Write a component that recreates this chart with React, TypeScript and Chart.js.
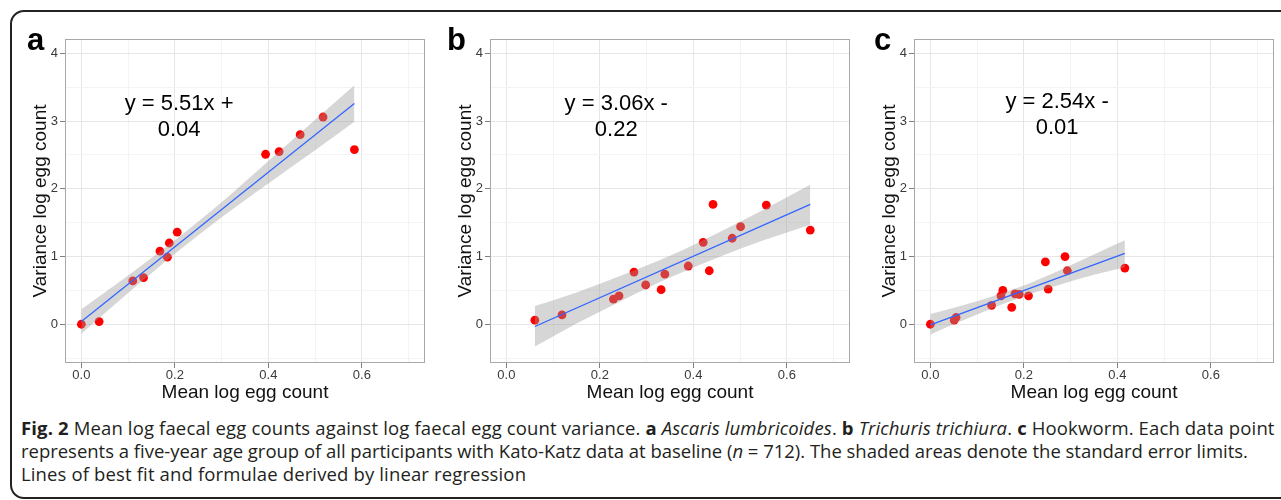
import React, { useEffect, useRef } from "react";
import { Chart, registerables } from "chart.js";

Chart.register(...registerables);

// ---------- data ----------
const xMajorTicks = [0, 0.2, 0.4, 0.6];
const xTickLabels = ["0.0", "0.2", "0.4", "0.6"];
const yMajorTicks = [0, 1, 2, 3, 4];
const yTickLabels = ["0", "1", "2", "3", "4"];

const panelLetters = ["a", "b", "c"];
const equationLines = [
  ["y = 5.51x +", "0.04"],
  ["y = 3.06x -", "0.22"],
  ["y = 2.54x -", "0.01"],
];

// a: Ascaris lumbricoides
const ascarisMean = [0.0, 0.038, 0.11, 0.133, 0.168, 0.184, 0.188, 0.205, 0.394, 0.423, 0.468, 0.517, 0.584];
const ascarisVar = [0.0, 0.04, 0.64, 0.69, 1.08, 0.99, 1.2, 1.36, 2.51, 2.55, 2.8, 3.06, 2.58];
const ascarisFitX = [0.0, 0.584];
const ascarisFitY = [0.04, 3.258];
const ascarisBandX = [0.0, 0.1, 0.2, 0.3, 0.4, 0.5, 0.584];
const ascarisBandUpper = [0.22, 0.72, 1.24, 1.80, 2.41, 3.02, 3.53];
const ascarisBandLower = [-0.14, 0.46, 1.04, 1.58, 2.08, 2.57, 2.99];

// b: Trichuris trichiura
const trichurisMean = [0.061, 0.119, 0.229, 0.241, 0.273, 0.298, 0.331, 0.339, 0.389, 0.421, 0.434, 0.442, 0.483, 0.501, 0.556, 0.65];
const trichurisVar = [0.06, 0.14, 0.37, 0.42, 0.77, 0.58, 0.51, 0.74, 0.86, 1.21, 0.79, 1.77, 1.27, 1.44, 1.76, 1.39];
const trichurisFitX = [0.061, 0.65];
const trichurisFitY = [-0.033, 1.769];
const trichurisBandX = [0.061, 0.15, 0.25, 0.35, 0.45, 0.55, 0.65];
const trichurisBandUpper = [0.27, 0.47, 0.73, 1.01, 1.34, 1.69, 2.06];
const trichurisBandLower = [-0.33, 0.01, 0.36, 0.69, 0.98, 1.24, 1.47];

// c: Hookworm
const hookwormMean = [0.0, 0.051, 0.055, 0.131, 0.151, 0.155, 0.174, 0.181, 0.19, 0.21, 0.246, 0.252, 0.288, 0.293, 0.416];
const hookwormVar = [0.0, 0.06, 0.1, 0.28, 0.42, 0.5, 0.25, 0.45, 0.44, 0.42, 0.92, 0.52, 1.0, 0.79, 0.83];
const hookwormFitX = [0.0, 0.416];
const hookwormFitY = [-0.01, 1.047];
const hookwormBandX = [0.0, 0.07, 0.14, 0.21, 0.28, 0.35, 0.416];
const hookwormBandUpper = [0.15, 0.28, 0.43, 0.60, 0.81, 1.03, 1.24];
const hookwormBandLower = [-0.15, 0.06, 0.26, 0.44, 0.59, 0.73, 0.84];

// ---------- styles / layout ----------
const FONT = "'Liberation Sans', Arial, Helvetica, sans-serif";
const X_MIN = -0.035;
const X_MAX = 0.735;
const Y_MIN = -0.572;
const Y_MAX = 4.212;

type PanelCfg = {
  mean: number[];
  variance: number[];
  fitX: number[];
  fitY: number[];
  bandX: number[];
  bandUpper: number[];
  bandLower: number[];
  letter: string;
  letterX: number;
  eq: string[];
  eqX: number;
  eqY: number[];
  left: number;
};

const panels: PanelCfg[] = [
  {
    mean: ascarisMean, variance: ascarisVar, fitX: ascarisFitX, fitY: ascarisFitY,
    bandX: ascarisBandX, bandUpper: ascarisBandUpper, bandLower: ascarisBandLower,
    letter: panelLetters[0], letterX: 15, eq: equationLines[0], eqX: 0.209, eqY: [3.247, 2.873], left: 12,
  },
  {
    mean: trichurisMean, variance: trichurisVar, fitX: trichurisFitX, fitY: trichurisFitY,
    bandX: trichurisBandX, bandUpper: trichurisBandUpper, bandLower: trichurisBandLower,
    letter: panelLetters[1], letterX: 10, eq: equationLines[1], eqX: 0.235, eqY: [3.25, 2.873], left: 437,
  },
  {
    mean: hookwormMean, variance: hookwormVar, fitX: hookwormFitX, fitY: hookwormFitY,
    bandX: hookwormBandX, bandUpper: hookwormBandUpper, bandLower: hookwormBandLower,
    letter: panelLetters[2], letterX: 13, eq: equationLines[2], eqX: 0.271, eqY: [3.29, 2.9], left: 861,
  },
];

const near = (arr: number[], v: number) => arr.findIndex((t) => Math.abs(t - v) < 1e-6);

const decorPlugin = {
  id: "figureDecor",
  afterDraw(chart: any, _args: any, opts: any) {
    const { ctx, chartArea, scales } = chart;
    ctx.save();
    // panel frame
    ctx.strokeStyle = "#a8a8a8";
    ctx.lineWidth = 1;
    ctx.strokeRect(
      Math.round(chartArea.left) + 0.5,
      Math.round(chartArea.top) + 0.5,
      Math.round(chartArea.right - chartArea.left) - 1,
      Math.round(chartArea.bottom - chartArea.top) - 1
    );
    // regression formula
    ctx.fillStyle = "#000";
    ctx.font = `22px ${FONT}`;
    ctx.textAlign = "center";
    ctx.textBaseline = "middle";
    const px = scales.x.getPixelForValue(opts.eqX);
    opts.eq.forEach((line: string, i: number) => {
      ctx.fillText(line, px, scales.y.getPixelForValue(opts.eqY[i]));
    });
    // panel letter
    ctx.font = `bold 31px ${FONT}`;
    ctx.textAlign = "left";
    ctx.textBaseline = "alphabetic";
    ctx.fillText(opts.letter, opts.letterX, 38);
    ctx.restore();
  },
};

function Panel({ cfg }: { cfg: PanelCfg }) {
  const ref = useRef<HTMLCanvasElement | null>(null);
  useEffect(() => {
    if (!ref.current) return;
    const tickFont = { family: FONT, size: 13 };
    const titleFont = { family: FONT, size: 19 };
    const chart = new Chart(ref.current, {
      type: "line",
      data: {
        datasets: [
          {
            label: "fit",
            data: cfg.fitX.map((x, i) => ({ x, y: cfg.fitY[i] })),
            borderColor: "#3366FF",
            borderWidth: 1.3,
            pointRadius: 0,
            fill: false,
            order: 0,
          },
          {
            label: "upper",
            data: cfg.bandX.map((x, i) => ({ x, y: cfg.bandUpper[i] })),
            borderWidth: 0,
            borderColor: "rgba(0,0,0,0)",
            backgroundColor: "rgba(153,153,153,0.4)",
            pointRadius: 0,
            fill: "+1",
            cubicInterpolationMode: "monotone",
            order: 1,
          },
          {
            label: "lower",
            data: cfg.bandX.map((x, i) => ({ x, y: cfg.bandLower[i] })),
            borderWidth: 0,
            borderColor: "rgba(0,0,0,0)",
            pointRadius: 0,
            fill: false,
            cubicInterpolationMode: "monotone",
            order: 1,
          },
          {
            label: "points",
            data: cfg.mean.map((x, i) => ({ x, y: cfg.variance[i] })),
            showLine: false,
            pointRadius: 4.4,
            pointBackgroundColor: "#ff0000",
            pointBorderWidth: 0,
            backgroundColor: "#ff0000",
            borderColor: "#ff0000",
            order: 2,
          },
        ],
      } as any,
      options: {
        animation: false,
        responsive: false,
        maintainAspectRatio: false,
        events: [],
        layout: { padding: { top: 27, right: 12, bottom: 0, left: 0 } },
        plugins: {
          legend: { display: false },
          tooltip: { enabled: false },
          figureDecor: { letter: cfg.letter, letterX: cfg.letterX, eq: cfg.eq, eqX: cfg.eqX, eqY: cfg.eqY },
        } as any,
        scales: {
          x: {
            type: "linear",
            min: X_MIN,
            max: X_MAX,
            afterFit: (s: any) => {
              s.height = 49;
            },
            border: { display: false },
            grid: {
              color: (c: any) => (near(xMajorTicks, c.tick.value) >= 0 ? "#e6e6e6" : "#f4f4f4"),
              tickColor: (c: any) => (near(xMajorTicks, c.tick.value) >= 0 ? "#808080" : "rgba(0,0,0,0)"),
              tickLength: 5,
              lineWidth: 1,
            },
            ticks: {
              stepSize: 0.1,
              includeBounds: false,
              autoSkip: false,
              maxRotation: 0,
              padding: 0,
              color: "#3a3a3a",
              font: tickFont,
              callback: (v: any) => {
                const i = near(xMajorTicks, Number(v));
                return i >= 0 ? xTickLabels[i] : "";
              },
            },
            title: {
              display: true,
              text: "Mean log egg count",
              color: "#111",
              font: titleFont,
              padding: { top: 0, bottom: 8.2 },
            },
          },
          y: {
            type: "linear",
            min: Y_MIN,
            max: Y_MAX,
            afterFit: (s: any) => {
              s.width = 53;
            },
            border: { display: false },
            grid: {
              color: (c: any) => (near(yMajorTicks, c.tick.value) >= 0 ? "#e6e6e6" : "#f4f4f4"),
              tickColor: (c: any) => (near(yMajorTicks, c.tick.value) >= 0 ? "#808080" : "rgba(0,0,0,0)"),
              tickLength: 5,
              lineWidth: 1,
            },
            ticks: {
              stepSize: 0.5,
              includeBounds: false,
              autoSkip: false,
              padding: 2,
              color: "#3a3a3a",
              font: tickFont,
              callback: (v: any) => {
                const i = near(yMajorTicks, Number(v));
                return i >= 0 ? yTickLabels[i] : "";
              },
            },
            title: {
              display: true,
              text: "Variance log egg count",
              color: "#111",
              font: titleFont,
              padding: { top: 17.6, bottom: 0 },
            },
          },
        },
      } as any,
      plugins: [decorPlugin],
    });
    return () => chart.destroy();
  }, [cfg]);
  return (
    <canvas
      ref={ref}
      width={425}
      height={400}
      style={{ position: "absolute", left: cfg.left, top: 12, width: 425, height: 400 }}
    />
  );
}

const captionFont = "'Open Sans', 'Noto Sans', sans-serif";

export default function App() {
  return (
    <div
      style={{
        position: "absolute",
        left: 0,
        top: 0,
        width: 1281,
        height: 500,
        overflow: "hidden",
        background: "#fff",
      }}
    >
      <div
        style={{
          position: "absolute",
          left: 10,
          top: 10,
          width: 1320,
          height: 489,
          boxSizing: "border-box",
          border: "2px solid #222",
          borderRadius: 14,
        }}
      />
      {panels.map((p, i) => (
        <Panel key={i} cfg={p} />
      ))}
      <div
        style={{
          position: "absolute",
          left: 21,
          top: 416,
          whiteSpace: "nowrap",
          fontFamily: captionFont,
          fontSize: 18.5,
          letterSpacing: "0.14px",
          lineHeight: "23px",
          color: "#231f20",
        }}
      >
        <div>
          <b>Fig. 2</b> Mean log faecal egg counts against log faecal egg count variance. <b>a</b>{" "}
          <i>Ascaris lumbricoides</i>. <b>b</b> <i>Trichuris trichiura</i>. <b>c</b> Hookworm. Each data point
        </div>
        <div style={{ letterSpacing: "-0.02px" }}>
          represents a five-year age group of all participants with Kato-Katz data at baseline (<i>n</i> = 712). The
          shaded areas denote the standard error limits.
        </div>
        <div>Lines of best fit and formulae derived by linear regression</div>
      </div>
    </div>
  );
}
